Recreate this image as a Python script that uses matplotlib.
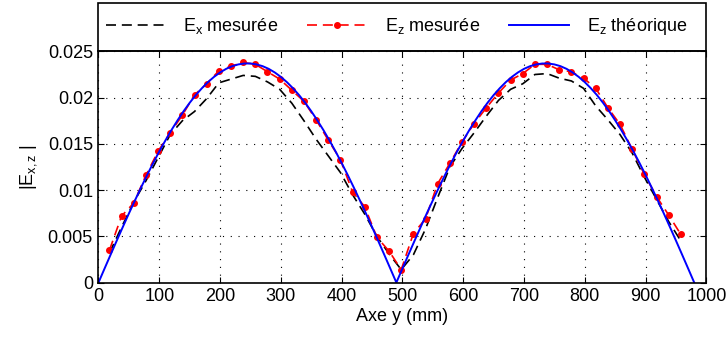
import matplotlib
matplotlib.use('Agg')
import matplotlib.pyplot as plt
from matplotlib.patches import Rectangle
from matplotlib.ticker import FuncFormatter

plt.rcParams['font.family'] = ['Liberation Sans', 'DejaVu Sans']
plt.rcParams['mathtext.fontset'] = 'custom'
plt.rcParams['mathtext.rm'] = 'Liberation Sans'
plt.rcParams['mathtext.it'] = 'Liberation Sans'

# measurement positions (mm)
y_mes = [18, 38, 58, 78, 98, 118, 138, 158, 178, 198, 218, 238, 258, 278, 298, 318,
         338, 358, 378, 398, 418, 438, 458, 478, 498, 518, 538, 558, 578, 598, 618, 638,
         658, 678, 698, 718, 738, 758, 778, 798, 818, 838, 858, 878, 898, 918, 938, 958]

ex_mes = [0.0032, 0.0060, 0.0087, 0.0110, 0.0135, 0.0160, 0.0175, 0.0185, 0.0199, 0.0216,
          0.0220, 0.0224, 0.0223, 0.0217, 0.0209, 0.0194, 0.0175, 0.0155, 0.0137, 0.0119,
          0.0095, 0.0074, 0.0050, 0.0031, 0.0014, 0.0030, 0.0058, 0.0092, 0.0125, 0.0145,
          0.0162, 0.0180, 0.0197, 0.0209, 0.0215, 0.0225, 0.0226, 0.0221, 0.0218, 0.0210,
          0.0191, 0.0176, 0.0160, 0.0140, 0.0114, 0.0090, 0.0066, 0.0045]

ez_mes = [0.0035, 0.0072, 0.0086, 0.0116, 0.0142, 0.0162, 0.0181, 0.0203, 0.0215, 0.0229,
          0.0234, 0.0238, 0.0236, 0.0228, 0.0220, 0.0208, 0.0196, 0.0176, 0.0154, 0.0133,
          0.0098, 0.0082, 0.0049, 0.0034, 0.0014, 0.0053, 0.0069, 0.0107, 0.0129, 0.0152,
          0.0172, 0.0189, 0.0205, 0.0219, 0.0226, 0.0236, 0.0236, 0.0230, 0.0228, 0.0221,
          0.0210, 0.0189, 0.0171, 0.0144, 0.0117, 0.0093, 0.0073, 0.0052]

# theoretical curve, read every 10 mm
y_th = [0, 10, 20, 30, 40, 50, 60, 70, 80, 90, 100, 110, 120, 130, 140, 150, 160, 170,
        180, 190, 200, 210, 220, 230, 240, 250, 260, 270, 280, 290, 300, 310, 320, 330,
        340, 350, 360, 370, 380, 390, 400, 410, 420, 430, 440, 450, 460, 470, 480, 490,
        500, 510, 520, 530, 540, 550, 560, 570, 580, 590, 600, 610, 620, 630, 640, 650,
        660, 670, 680, 690, 700, 710, 720, 730, 740, 750, 760, 770, 780, 790, 800, 810,
        820, 830, 840, 850, 860, 870, 880, 890, 900, 910, 920, 930, 940, 950, 960, 970, 980]

ez_th = [0, 0.00152, 0.00303, 0.00453, 0.00601, 0.00747, 0.00889, 0.01028, 0.01163, 0.01293,
         0.01418, 0.01536, 0.01649, 0.01754, 0.01853, 0.01944, 0.02027, 0.02101, 0.02167,
         0.02224, 0.02272, 0.02311, 0.02340, 0.02359, 0.02369, 0.02369, 0.02359, 0.02340,
         0.02311, 0.02272, 0.02224, 0.02167, 0.02101, 0.02027, 0.01944, 0.01853, 0.01754,
         0.01649, 0.01536, 0.01418, 0.01293, 0.01163, 0.01028, 0.00889, 0.00747, 0.00601,
         0.00453, 0.00303, 0.00152, 0,
         0.00152, 0.00303, 0.00453, 0.00601, 0.00747, 0.00889, 0.01028, 0.01163, 0.01293,
         0.01418, 0.01536, 0.01649, 0.01754, 0.01853, 0.01944, 0.02027, 0.02101, 0.02167,
         0.02224, 0.02272, 0.02311, 0.02340, 0.02359, 0.02369, 0.02369, 0.02359, 0.02340,
         0.02311, 0.02272, 0.02224, 0.02167, 0.02101, 0.02027, 0.01944, 0.01853, 0.01754,
         0.01649, 0.01536, 0.01418, 0.01293, 0.01163, 0.01028, 0.00889, 0.00747, 0.00601,
         0.00453, 0.00303, 0.00152, 0]

fs = 13

fig = plt.figure(figsize=(7.28, 3.38), dpi=100)
ax = fig.add_axes([0.1353, 0.164, 0.835, 0.684])

ax.plot(y_mes, ex_mes, color='black', linestyle='--', dashes=(6, 3.5), linewidth=1.2,
        label='E$_\\mathregular{x}$ mesurée')
ax.plot(y_mes, ez_mes, color='red', linestyle='--', dashes=(6, 3.5), linewidth=1.2,
        marker='o', markersize=4, label='E$_\\mathregular{z}$ mesurée')
ax.plot(y_th, ez_th, color='blue', linewidth=1.4, label='E$_\\mathregular{z}$ théorique')

ax.set_xlim(0, 1000)
ax.set_ylim(0, 0.025)
ax.set_xticks(range(0, 1001, 100))
ax.set_yticks([0, 0.005, 0.01, 0.015, 0.02, 0.025])
ax.yaxis.set_major_formatter(FuncFormatter(lambda v, p: '%g' % v))
ax.tick_params(direction='in', top=True, right=True, labelsize=fs, length=4, width=0.8,
               pad=4)
ax.grid(True, color='black', linestyle=(0, (1, 6)), linewidth=0.8)
for s in ax.spines.values():
    s.set_linewidth(1.2)

ax.set_xlabel('Axe y (mm)', fontsize=fs, labelpad=2)
ax.set_ylabel('|E$_\\mathregular{x,z}$ |', fontsize=fs, labelpad=6)

# legend box above the axes, same width
box = Rectangle((0, 1.0), 1, 0.208, transform=ax.transAxes, clip_on=False,
                facecolor='white', edgecolor='black', linewidth=1.2)
ax.add_patch(box)
leg = ax.legend(loc='center left', bbox_to_anchor=(0.0, 1.106), ncol=3, fontsize=fs,
                frameon=False, borderaxespad=0, borderpad=0.4,
                handlelength=3.3, handletextpad=1.0, columnspacing=1.6)

fig.savefig('out.png', dpi=100)
